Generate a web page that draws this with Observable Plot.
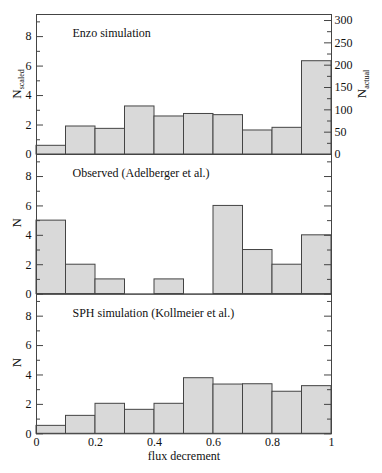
<!DOCTYPE html>
<html><head><meta charset="utf-8">
<script src="https://cdn.jsdelivr.net/npm/d3@7"></script>
<script src="https://cdn.jsdelivr.net/npm/@observablehq/plot@0.6"></script>
<style>
body{margin:0;background:#fff}
#chart{position:relative;width:382px;height:473px}
#chart svg{position:absolute;left:0;top:0}
#chart svg, #chart svg text, #chart svg tspan{font-family:"Liberation Serif","Times New Roman",Times,serif !important}
</style>
</head><body><div id="chart"></div>
<script>
const binEdges = [0, 0.1, 0.2, 0.3, 0.4, 0.5, 0.6, 0.7, 0.8, 0.9, 1.0];
const enzoScaled = [0.59, 1.90, 1.74, 3.26, 2.58, 2.75, 2.67, 1.63, 1.81, 6.33];
const observed = [5, 2, 1, 0, 1, 0, 6, 3, 2, 4];
const sph = [0.54, 1.22, 2.04, 1.63, 2.04, 3.78, 3.35, 3.37, 2.86, 3.24];
const titles = ["Enzo simulation", "Observed (Adelberger et al.)", "SPH simulation (Kollmeier et al.)"];
const yMajor = [0, 2, 4, 6, 8];
const yMinor = [1, 3, 5, 7, 9];
const actualMajor = [0, 50, 100, 150, 200, 250, 300];
const actualMinor = [25, 75, 125, 175, 225, 275];
const actualPerScaled = 33;
const xTicks = [0, 0.2, 0.4, 0.6, 0.8, 1];
const xLabel = "flux decrement";

const W = 382, H = 473;
const mL = 36, mR = 51;
const innerW = W - mL - mR;
const tops = [14, 154, 293.6];
const bottoms = [154, 293.6, 433.3];
const series = [enzoScaled, observed, sph];
const FONT = "Liberation Serif";
const majorLen = 7, minorLen = 4;

const chart = document.getElementById("chart");

series.forEach((vals, i) => {
  const data = vals.map((v, j) => ({x1: binEdges[j], x2: binEdges[j + 1], y: v})).filter(d => d.y > 0);
  const marks = [
    Plot.rectY(data, {x1: "x1", x2: "x2", y2: "y", y1: 0, fill: "#d9d9d9", stroke: "#444", strokeWidth: 1}),
    Plot.frame({stroke: "#444", strokeWidth: 1}),
    Plot.tickY(yMajor, {y: d => d, insetRight: innerW - majorLen, stroke: "#444"}),
    Plot.tickY(yMinor, {y: d => d, insetRight: innerW - minorLen, stroke: "#444"}),
    Plot.axisY(yMajor, {anchor: "left", tickSize: 0, tickPadding: 5, label: null, fontSize: 12, fill: "#111"}),
    Plot.text([titles[i]], {frameAnchor: "top-left", lineAnchor: "middle", textAnchor: "start", dx: 36, dy: 19, fontSize: 12, fill: "#111"})
  ];
  if (i === 0) {
    marks.push(
      Plot.tickY(actualMajor, {y: d => d / actualPerScaled, insetLeft: innerW - majorLen, stroke: "#444"}),
      Plot.tickY(actualMinor, {y: d => d / actualPerScaled, insetLeft: innerW - minorLen, stroke: "#444"}),
      Plot.text(actualMajor, {y: d => d / actualPerScaled, text: d => String(d), frameAnchor: "right", textAnchor: "start", dx: 3, fontSize: 12, fill: "#111"})
    );
  } else {
    marks.push(
      Plot.tickY(yMajor, {y: d => d, insetLeft: innerW - majorLen, stroke: "#444"}),
      Plot.tickY(yMinor, {y: d => d, insetLeft: innerW - minorLen, stroke: "#444"})
    );
  }
  if (i === 2) {
    marks.push(
      Plot.axisX(xTicks, {anchor: "bottom", tickSize: 0, tickPadding: 4, label: null, fontSize: 12, fill: "#111", tickFormat: d => String(d)}),
      Plot.text([xLabel], {frameAnchor: "bottom", lineAnchor: "middle", dy: 22, fontSize: 12, fill: "#111"})
    );
  }
  const svg = Plot.plot({
    width: W, height: H,
    marginLeft: mL, marginRight: mR,
    marginTop: tops[i], marginBottom: H - bottoms[i],
    x: {domain: [0, 1], axis: null},
    y: {domain: [0, 9.5], axis: null},
    style: {fontFamily: FONT, fontSize: "12px", background: "none", overflow: "visible", color: "#111"},
    marks
  });
  svg.setAttribute("font-family", FONT);
  chart.appendChild(svg);

  const s = d3.select(svg);
  const midY = (tops[i] + bottoms[i]) / 2;
  const addLabel = (x, y, main, sub) => {
    const t = s.append("text")
      .attr("transform", `translate(${x},${y}) rotate(-90)`)
      .attr("text-anchor", "middle")
      .attr("font-family", FONT)
      .attr("font-size", 13)
      .attr("fill", "#111");
    t.append("tspan").text(main);
    if (sub) t.append("tspan").attr("font-size", 8).attr("dy", 3).text(sub);
  };
  if (i === 0) {
    addLabel(21, 84, "N", "scaled");
    addLabel(366, 84, "N", "actual");
  } else {
    addLabel(21, midY - 1, "N", null);
  }
});
</script>
</body></html>
